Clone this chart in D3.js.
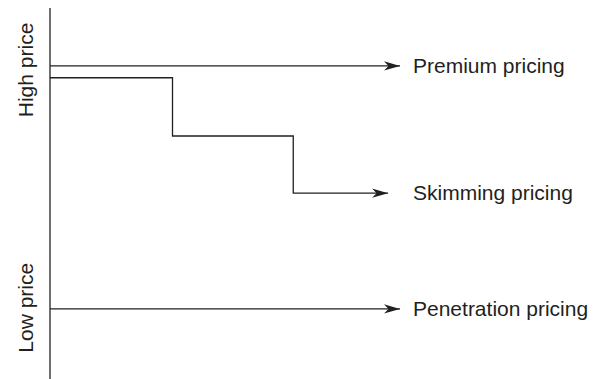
<!DOCTYPE html>
<html>
<head>
<meta charset="utf-8">
<script src="https://cdn.jsdelivr.net/npm/d3@7"></script>
<style>
  body { margin: 0; background: #fff; }
  text { font-family: "Liberation Sans", Arial, Helvetica, sans-serif; fill: #231f20; }
</style>
</head>
<body>
<svg width="600" height="379"></svg>
<script>
// pricing strategies over time (x = time, y = price, arbitrary 0-100 units)
var categories = ["Premium pricing", "Skimming pricing", "Penetration pricing"];
var premiumTime = [0, 100];
var premiumPrice = [84.4, 84.4];
var skimmingTime = [0, 35, 69.5, 96.6];
var skimmingPrice = [81.2, 65.5, 50.1, 50.1];
var penetrationTime = [0, 100];
var penetrationPrice = [18.9, 18.9];
var axisLabels = ["High price", "Low price"];
var axisLabelPrice = [83.3, 19.2];

var svg = d3.select('svg');
var ink = '#231f20';

var x = d3.scaleLinear().domain([0, 100]).range([50, 400]);
var y = d3.scaleLinear().domain([0, 100]).range([379, 8]);

svg.append('defs').append('marker')
    .attr('id', 'arrow')
    .attr('markerUnits', 'userSpaceOnUse')
    .attr('viewBox', '-17 -5 18 10')
    .attr('refX', 0).attr('refY', 0)
    .attr('markerWidth', 18).attr('markerHeight', 10)
    .attr('orient', 'auto')
    .append('path')
    .attr('d', 'M0,0 L-16,-4.6 L-11.5,0 L-16,4.6 Z')
    .attr('fill', ink);

// vertical price axis
svg.append('line')
    .attr('x1', x(0)).attr('x2', x(0))
    .attr('y1', y(100)).attr('y2', y(0))
    .attr('stroke', ink).attr('stroke-width', 1.3);

var series = [
    { name: categories[0], t: premiumTime, p: premiumPrice },
    { name: categories[1], t: skimmingTime, p: skimmingPrice },
    { name: categories[2], t: penetrationTime, p: penetrationPrice }
];

var line = d3.line()
    .x(function (d) { return x(d[0]); })
    .y(function (d) { return y(d[1]); })
    .curve(d3.curveStepAfter);

series.forEach(function (s) {
    var pts = s.t.map(function (t, i) { return [t, s.p[i]]; });
    svg.append('path')
        .attr('d', line(pts))
        .attr('fill', 'none')
        .attr('stroke', ink)
        .attr('stroke-width', 1.3)
        .attr('marker-end', 'url(#arrow)');
    svg.append('text')
        .attr('x', 413)
        .attr('y', y(s.p[s.p.length - 1]))
        .attr('dy', '0.35em')
        .attr('font-size', 21)
        .text(s.name);
});

axisLabels.forEach(function (lab, i) {
    svg.append('text')
        .attr('transform', 'translate(33,' + y(axisLabelPrice[i]) + ') rotate(-90)')
        .attr('text-anchor', 'middle')
        .attr('font-size', 21)
        .text(lab);
});
</script>
</body>
</html>
